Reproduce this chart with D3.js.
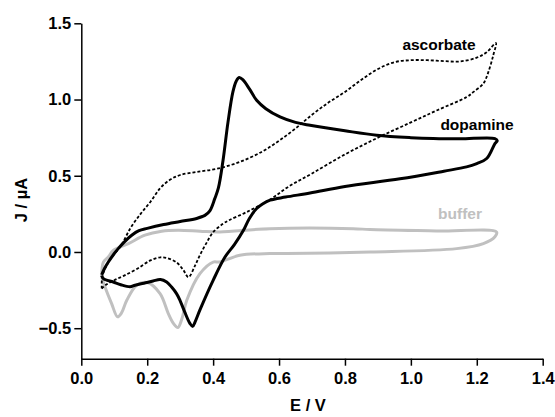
<!DOCTYPE html>
<html>
<head>
<meta charset="utf-8">
<script src="https://cdn.jsdelivr.net/npm/d3@7"></script>
<style>
  body { margin: 0; background: #fff; }
  text { font-family: "Liberation Sans", Arial, sans-serif; font-weight: bold; }
</style>
</head>
<body>
<svg id="cv" width="555" height="417"></svg>
<script>
// E (V) and J (uA) pairs, one closed sweep per curve
var dopamineE = [0.062, 0.07, 0.082, 0.1, 0.112, 0.13, 0.153, 0.175, 0.2, 0.25, 0.3, 0.35, 0.375, 0.39, 0.405, 0.416, 0.43, 0.445, 0.46, 0.47, 0.479, 0.49, 0.51, 0.532, 0.56, 0.603, 0.65, 0.694, 0.8, 0.896, 1.0, 1.068, 1.15, 1.255,
  1.262, 1.255, 1.23, 1.2, 1.169, 1.1, 0.967, 0.8, 0.694, 0.62, 0.573, 0.55, 0.532, 0.51, 0.492, 0.465, 0.436, 0.4, 0.36, 0.345, 0.338, 0.33, 0.315, 0.3, 0.289, 0.274, 0.259, 0.24, 0.218, 0.19, 0.163, 0.148, 0.12, 0.097, 0.067, 0.062];
var dopamineJ = [-0.15, -0.11, -0.066, -0.01, 0.022, 0.065, 0.11, 0.14, 0.155, 0.18, 0.2, 0.22, 0.24, 0.27, 0.35, 0.42, 0.6, 0.85, 1.05, 1.12, 1.144, 1.13, 1.07, 0.995, 0.94, 0.886, 0.85, 0.831, 0.795, 0.766, 0.75, 0.744, 0.742, 0.744,
  0.73, 0.711, 0.613, 0.58, 0.558, 0.53, 0.48, 0.43, 0.387, 0.36, 0.34, 0.315, 0.285, 0.22, 0.142, 0.05, -0.033, -0.186, -0.38, -0.46, -0.488, -0.47, -0.4, -0.32, -0.273, -0.23, -0.197, -0.181, -0.19, -0.205, -0.218, -0.228, -0.215, -0.197, -0.175, -0.155];

var ascorbateE = [0.062, 0.063, 0.07, 0.09, 0.12, 0.15, 0.18, 0.21, 0.24, 0.27, 0.3, 0.35, 0.41, 0.48, 0.55, 0.6, 0.65, 0.7, 0.75, 0.8, 0.85, 0.9, 0.95, 1.0, 1.05, 1.1, 1.15, 1.2, 1.23, 1.258,
  1.25, 1.235, 1.22, 1.19, 1.17, 1.08, 1.0, 0.9, 0.8, 0.7, 0.63, 0.57, 0.5, 0.45, 0.43, 0.4, 0.38, 0.36, 0.345, 0.325, 0.31, 0.29, 0.26, 0.24, 0.21, 0.17, 0.13, 0.1, 0.075, 0.062];
var ascorbateJ = [-0.24, -0.17, -0.12, -0.04, 0.04, 0.16, 0.25, 0.33, 0.42, 0.475, 0.505, 0.525, 0.545, 0.59, 0.66, 0.73, 0.81, 0.9, 0.98, 1.05, 1.13, 1.2, 1.245, 1.258, 1.258, 1.252, 1.25, 1.275, 1.31, 1.37,
  1.29, 1.18, 1.105, 1.05, 1.017, 0.93, 0.85, 0.75, 0.64, 0.515, 0.43, 0.34, 0.26, 0.21, 0.185, 0.13, 0.06, -0.02, -0.09, -0.165, -0.12, -0.07, -0.04, -0.035, -0.055, -0.11, -0.155, -0.185, -0.215, -0.24];

var bufferE = [0.062, 0.067, 0.082, 0.097, 0.143, 0.193, 0.244, 0.294, 0.36, 0.42, 0.572, 0.825, 0.876, 1.078, 1.26,
  1.255, 1.22, 1.139, 0.876, 0.623, 0.572, 0.481, 0.42, 0.4, 0.36, 0.32, 0.305, 0.293, 0.28, 0.264, 0.239, 0.2, 0.168, 0.138, 0.122, 0.11, 0.092, 0.072, 0.062];
var bufferJ = [-0.164, -0.066, -0.033, 0.011, 0.055, 0.11, 0.136, 0.142, 0.136, 0.131, 0.153, 0.153, 0.147, 0.138, 0.131,
  0.1, 0.055, 0.022, 0.0, -0.01, -0.01, -0.022, -0.066, -0.066, -0.142, -0.317, -0.44, -0.495, -0.47, -0.404, -0.273, -0.2, -0.218, -0.317, -0.4, -0.425, -0.339, -0.23, -0.164];

var xTicks = [0, 0.2, 0.4, 0.6, 0.8, 1.0, 1.2, 1.4];
var xMinor = [0.1, 0.3, 0.5, 0.7, 0.9, 1.1, 1.3];
var yTicks = [-0.5, 0.0, 0.5, 1.0, 1.5];
var yMinor = [-0.25, 0.25, 0.75, 1.25];

var svg = d3.select("#cv");

var x = d3.scaleLinear().domain([0, 1.4]).range([81.3, 542.7]);
var y = d3.scaleLinear().domain([-0.7, 1.5]).range([358.7, 23.3]);

function pts(es, js) {
  return es.map(function(e, i) { return {e: e, j: js[i]}; });
}

var line = d3.line()
    .x(function(d) { return x(d.e); })
    .y(function(d) { return y(d.j); })
    .curve(d3.curveCatmullRom.alpha(0.5));

svg.append("path")
  .datum(pts(bufferE, bufferJ))
  .attr("fill", "none")
  .attr("stroke", "#c0c0c0")
  .attr("stroke-width", 3)
  .attr("stroke-linejoin", "round")
  .attr("d", line);

svg.append("path")
  .datum(pts(ascorbateE, ascorbateJ))
  .attr("fill", "none")
  .attr("stroke", "#000")
  .attr("stroke-width", 1.8)
  .attr("stroke-dasharray", "3,2")
  .attr("d", line);

svg.append("path")
  .datum(pts(dopamineE, dopamineJ))
  .attr("fill", "none")
  .attr("stroke", "#000")
  .attr("stroke-width", 3)
  .attr("stroke-linejoin", "round")
  .attr("d", line);

// axes
var fmt = d3.format(".1f");

var gx = svg.append("g").attr("transform", "translate(0," + y(-0.7) + ")");
gx.call(d3.axisBottom(x).tickValues(xMinor).tickSize(4).tickFormat(""));
gx.call(d3.axisBottom(x).tickValues(xTicks).tickSize(7).tickSizeOuter(0).tickPadding(7).tickFormat(fmt));

var gy = svg.append("g").attr("transform", "translate(" + x(0) + ",0)");
gy.call(d3.axisLeft(y).tickValues(yMinor).tickSize(4).tickFormat(""));
gy.call(d3.axisLeft(y).tickValues(yTicks).tickSize(7).tickSizeOuter(0).tickPadding(3).tickFormat(fmt));

svg.selectAll(".domain").attr("stroke", "#000").attr("stroke-width", 1.5);
svg.selectAll(".tick line").attr("stroke", "#000").attr("stroke-width", 1.5);
svg.selectAll(".tick text")
  .attr("fill", "#000")
  .style("font-size", "16.5px")
  .style("font-weight", "bold");

svg.append("text")
  .attr("x", 308)
  .attr("y", 411)
  .attr("text-anchor", "middle")
  .style("font-size", "16.5px")
  .text("E / V");

svg.append("text")
  .attr("transform", "translate(27,200) rotate(-90)")
  .attr("text-anchor", "middle")
  .style("font-size", "16.5px")
  .text("J / \u00b5A");

// curve labels
svg.append("text").attr("x", 439).attr("y", 50).attr("text-anchor", "middle")
  .style("font-size", "15.5px").attr("fill", "#000").text("ascorbate");
svg.append("text").attr("x", 477).attr("y", 130).attr("text-anchor", "middle")
  .style("font-size", "15.5px").attr("fill", "#000").text("dopamine");
svg.append("text").attr("x", 460).attr("y", 219).attr("text-anchor", "middle")
  .style("font-size", "15.5px").attr("fill", "#c0c0c0").text("buffer");
</script>
</body>
</html>
